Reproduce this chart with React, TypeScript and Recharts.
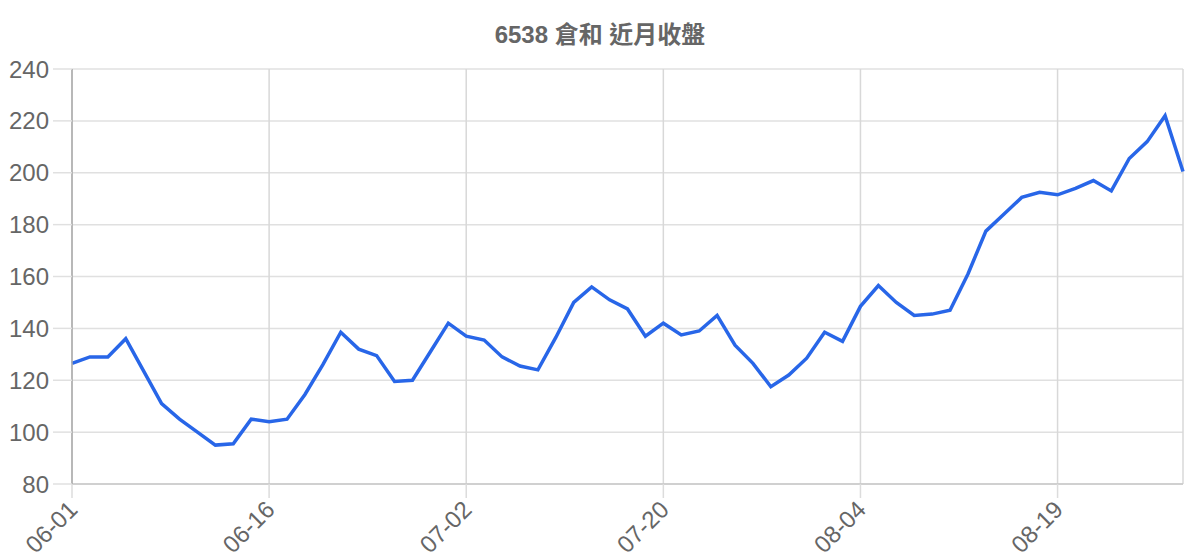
import { CartesianGrid, Line, LineChart, XAxis, YAxis } from "recharts";

// Trading-day labels (MM-DD) for the last month of closes.
const DATES = [
  "06-01", "06-02", "06-03", "06-04", "06-07", "06-08", "06-09", "06-10", "06-11", "06-14", "06-15",
  "06-16", "06-17", "06-18", "06-21", "06-22", "06-23", "06-24", "06-25", "06-28", "06-29", "06-30",
  "07-02", "07-05", "07-06", "07-07", "07-08", "07-09", "07-12", "07-13", "07-14", "07-15", "07-16",
  "07-20", "07-21", "07-22", "07-23", "07-26", "07-27", "07-28", "07-29", "07-30", "08-02", "08-03",
  "08-04", "08-05", "08-06", "08-09", "08-10", "08-11", "08-12", "08-13", "08-16", "08-17", "08-18",
  "08-19", "08-20", "08-23", "08-24", "08-25", "08-26", "08-27", "08-30",
];

const CLOSES = [
  126.5, 129, 129, 136, 123.5, 111, 105, 100, 95, 95.5, 105,
  104, 105, 114.5, 126, 138.5, 132, 129.5, 119.5, 120, 131, 142,
  137, 135.5, 129, 125.5, 124, 136.5, 150, 156, 151, 147.5, 137,
  142, 137.5, 139, 145, 133.5, 126.5, 117.5, 122, 128.5, 138.5, 135,
  148.5, 156.5, 150, 145, 145.5, 147, 161, 177.5, 184, 190.5, 192.5,
  191.5, 194, 197, 193, 205.5, 212, 222, 200.5,
];

const X_TICKS = ["06-01", "06-16", "07-02", "07-20", "08-04", "08-19"];
const Y_TICKS = [80, 100, 120, 140, 160, 180, 200, 220, 240];

const data = DATES.map((date, i) => ({ date, close: CLOSES[i] }));

const FONT = '"Liberation Sans", Arial, "Noto Sans CJK TC", sans-serif';

function RotatedTick({ x, y, payload }: any) {
  return (
    <text
      x={x + 7}
      y={y + 11}
      transform={`rotate(-45, ${x + 7}, ${y + 11})`}
      textAnchor="end"
      fill="#666"
      fontSize={24}
      fontFamily={FONT}
    >
      {payload.value}
    </text>
  );
}

export default function App() {
  return (
    <div style={{ position: "absolute", left: 0, top: 0, width: 1200, height: 560, background: "#fff" }}>
      <div
        style={{
          position: "absolute",
          top: 15,
          left: 0,
          width: 1200,
          textAlign: "center",
          fontFamily: FONT,
          fontWeight: "bold",
          fontSize: 24,
          color: "#666",
        }}
      >
        6538 倉和 近月收盤
      </div>
      <LineChart width={1200} height={560} data={data} margin={{ top: 69, right: 17, bottom: 0, left: 0 }}>
        <CartesianGrid stroke="#e0e0e0" strokeWidth={1.5} vertical={false} />
        <CartesianGrid stroke="#d8d8d8" strokeWidth={1.5} horizontal={false} />
        <XAxis
          dataKey="date"
          ticks={X_TICKS}
          interval={0}
          height={76}
          tickSize={14}
          tickLine={{ stroke: "#dcdcdc", strokeWidth: 1.5 }}
          axisLine={{ stroke: "#c8c8c8", strokeWidth: 1.5 }}
          tick={<RotatedTick />}
        />
        <YAxis
          domain={[80, 240]}
          ticks={Y_TICKS}
          width={72}
          tickSize={19}
          tickMargin={4}
          tickLine={{ stroke: "#e0e0e0", strokeWidth: 1.5 }}
          axisLine={{ stroke: "#aaa", strokeWidth: 1.5 }}
          tick={{ fill: "#666", fontSize: 24, fontFamily: FONT }}
        />
        <Line
          type="linear"
          dataKey="close"
          stroke="#2866e8"
          strokeWidth={3.5}
          dot={false}
          isAnimationActive={false}
        />
      </LineChart>
    </div>
  );
}
